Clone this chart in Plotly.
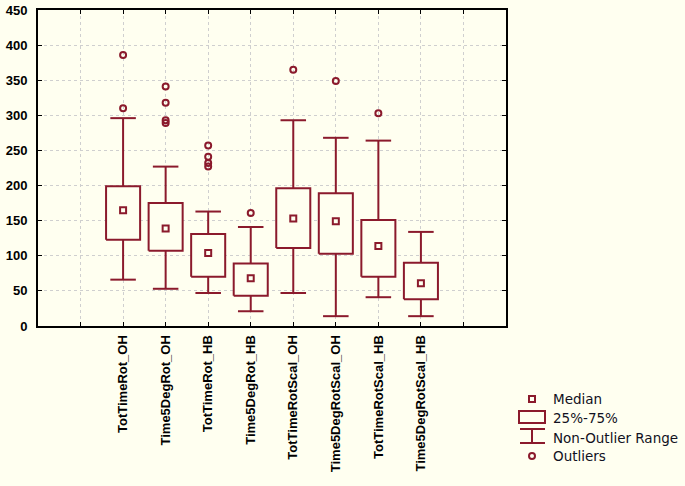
import plotly.graph_objects as go

# ---- data ----
categories = ["TotTimeRot_OH", "Time5DegRot_OH", "TotTimeRot_HB", "Time5DegRot_HB",
              "TotTimeRotScal_OH", "Time5DegRotScal_OH", "TotTimeRotScal_HB", "Time5DegRotScal_HB"]
medians = [165, 139, 104, 68, 153, 149, 114, 61]
q1 = [123, 107, 70, 43, 111, 103, 70, 38]
q3 = [199, 175, 131, 89, 196, 189, 151, 90]
lower_whisk = [66, 53, 47, 21, 47, 14, 41, 14]
upper_whisk = [296, 227, 163, 141, 293, 268, 264, 134]
outliers = [[386, 310], [341, 318, 293, 289], [257, 241, 232, 227], [161], [365], [349], [303], []]

y_ticks = list(range(0, 451, 50))

# ---- styles ----
RED = "#8B1A2C"
BG = "#FFFFF0"
BOX_HW = 0.40
CAP_HW = 0.30
FONT = "Liberation Sans, Arial, sans-serif"
LEG_FONT = "DejaVu Sans, Verdana, sans-serif"
W, H = 685, 486


def px(x):
    return x / W


def py(y):
    return 1 - y / H


positions = [i + 2 for i in range(len(categories))]

bx, by = [], []
wx, wy = [], []
for p, a, b, lo, hi in zip(positions, q1, q3, lower_whisk, upper_whisk):
    bx += [p - BOX_HW, p + BOX_HW, p + BOX_HW, p - BOX_HW, p - BOX_HW, None]
    by += [a, a, b, b, a, None]
    wx += [p, p, None, p, p, None,
           p - CAP_HW, p + CAP_HW, None, p - CAP_HW, p + CAP_HW, None]
    wy += [b, hi, None, a, lo, None, hi, hi, None, lo, lo, None]

ox, oy = [], []
for p, outs in zip(positions, outliers):
    for v in outs:
        ox.append(p)
        oy.append(v)

fig = go.Figure()
fig.add_trace(go.Scatter(x=wx, y=wy, mode="lines", line=dict(color=RED, width=2),
                         hoverinfo="skip", showlegend=False))
fig.add_trace(go.Scatter(x=bx, y=by, mode="lines", line=dict(color=RED, width=2),
                         fill="toself", fillcolor=BG, hoverinfo="skip", showlegend=False))
fig.add_trace(go.Scatter(x=positions, y=medians, mode="markers",
                         marker=dict(symbol="square-open", size=6, color=RED, line=dict(width=2, color=RED)),
                         showlegend=False, name="Median"))
fig.add_trace(go.Scatter(x=ox, y=oy, mode="markers",
                         marker=dict(symbol="circle-open", size=6, color=RED, line=dict(width=2, color=RED)),
                         showlegend=False, name="Outliers"))

# ---- custom legend (STATISTICA style) in paper coordinates ----
ln = dict(color=RED, width=2)
shapes = [
    dict(type="rect", xref="paper", yref="paper", x0=px(529), x1=px(535), y0=py(396), y1=py(402), line=ln),
    dict(type="rect", xref="paper", yref="paper", x0=px(519), x1=px(545), y0=py(411), y1=py(423), line=ln),
    dict(type="line", xref="paper", yref="paper", x0=px(520), x1=px(545), y0=py(429), y1=py(429), line=ln),
    dict(type="line", xref="paper", yref="paper", x0=px(532), x1=px(532), y0=py(429), y1=py(443), line=ln),
    dict(type="line", xref="paper", yref="paper", x0=px(520), x1=px(545), y0=py(443), y1=py(443), line=ln),
    dict(type="circle", xref="paper", yref="paper", x0=px(529), x1=px(535), y0=py(453), y1=py(459), line=ln),
]

legend_labels = ["Median", "25%-75%", "Non-Outlier Range", "Outliers"]
legend_y = [399, 418, 438, 456]
for t, yy in zip(legend_labels, legend_y):
    fig.add_annotation(x=px(551), y=py(yy), xref="paper", yref="paper", text=t, showarrow=False,
                       xanchor="left", yanchor="middle",
                       font=dict(family=LEG_FONT, size=13.5, color="#111122"))

fig.update_layout(
    width=W, height=H, autosize=False,
    margin=dict(l=0, r=0, t=0, b=0, pad=0, autoexpand=False),
    paper_bgcolor=BG, plot_bgcolor=BG,
    font=dict(family=FONT, color="black"),
    shapes=shapes,
    xaxis=dict(domain=[38 / W, 506 / W], range=[0, 11], automargin=False,
               tickvals=list(range(1, 11)), ticktext=[""] + categories + [""],
               tickangle=-90, ticks="inside", ticklen=4, tickwidth=1, tickcolor="black",
               showline=True, linecolor="black", linewidth=2, mirror="ticks",
               showgrid=True, gridcolor="#CFCFCF", griddash="dot", gridwidth=1,
               zeroline=False, tickfont=dict(family=FONT, size=13, color="black", weight="bold"),
               ticklabelstandoff=2, fixedrange=True),
    yaxis=dict(domain=[py(326), py(10)], range=[0, 450], automargin=False,
               tickvals=y_ticks, ticks="inside", ticklen=4, tickwidth=1, tickcolor="black",
               showline=True, linecolor="black", linewidth=2, mirror="ticks",
               showgrid=True, gridcolor="#CFCFCF", griddash="dot", gridwidth=1,
               zeroline=False, tickfont=dict(family=FONT, size=13, color="black", weight="bold"),
               ticklabelstandoff=6, fixedrange=True),
)

page_fix = (
    "var s=document.createElement('style');"
    "s.textContent='html,body{margin:0!important;padding:0!important;overflow:hidden;"
    "height:486px;background:#FFFFF0;} body>div{margin:0;padding:0;line-height:0;}';"
    "document.head.appendChild(s);"
)
fig.write_html("out.html", config={"displayModeBar": False}, post_script=page_fix)
